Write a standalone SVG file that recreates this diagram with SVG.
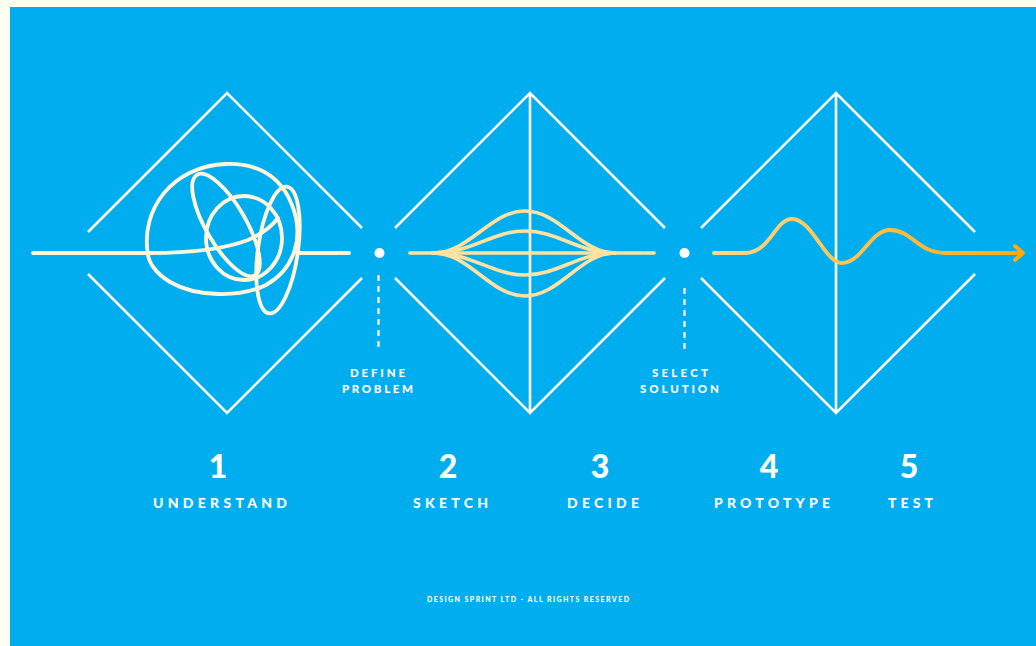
<svg xmlns="http://www.w3.org/2000/svg" width="1036" height="646" viewBox="0 0 1036 646">
  <defs>
    <style>
      .edge{fill:none;stroke:#ffffff;stroke-width:2.6;stroke-linecap:butt}
      .dash{fill:none;stroke:#ffffff;stroke-width:2.2;stroke-dasharray:6 5}
      .scr{fill:none;stroke:#fff6dc;stroke-width:3.8;stroke-linecap:round;stroke-linejoin:round}
      .lens{fill:none;stroke:#ffe2a0;stroke-width:3.6;stroke-linecap:round}
      .num{font-family:Lato,"Liberation Sans",sans-serif;font-weight:900;font-size:32px;fill:#ffffff;text-anchor:middle}
      .lbl{font-family:Lato,"Liberation Sans",sans-serif;font-weight:900;font-size:14px;fill:#ffffff;text-anchor:middle}
      .sm{font-family:Lato,"Liberation Sans",sans-serif;font-weight:900;font-size:11.5px;fill:#ffffff;text-anchor:middle}
      .ft{font-family:Lato,"Liberation Sans",sans-serif;font-weight:900;font-size:7px;fill:#ffffff;text-anchor:middle}
    </style>
    <linearGradient id="waveGrad" gradientUnits="userSpaceOnUse" x1="713" y1="0" x2="1025" y2="0">
      <stop offset="0" stop-color="#ffd888"/>
      <stop offset="1" stop-color="#ffa90c"/>
    </linearGradient>
  </defs>

  <rect x="0" y="0" width="1036" height="646" fill="#fdfff0"/>
  <rect x="10" y="7" width="1026" height="639" fill="#00aeef"/>

  <g id="diamond-1">
    <path class="edge" d="M88 232 L227 93 L362 228 M88 274 L227 413 L362 278"/>
  </g>
  <g id="diamond-2">
    <path class="edge" d="M395 228 L530 93 L665 228 M395 278 L530 413 L665 278 M530 93 V413"/>
  </g>
  <g id="diamond-3">
    <path class="edge" d="M701 228 L836 93 L975 232 M701 278 L836 413 L975 274 M836 93 V413"/>
  </g>

  <g id="scribble">
    <path class="scr" d="M33 253 H150 C185 253 222 250 248 240 C262 234 272 226 278 218"/>
    <path class="scr" d="M148 255 C140 210 172 166 226 164 C262 163 282 180 292 205 C304 235 296 268 266 285 C240 298 196 297 170 282 C155 273 149 262 148 255 Z"/>
    <ellipse class="scr" cx="226" cy="225" rx="58" ry="20" transform="rotate(60 226 225)"/>
    <ellipse class="scr" cx="244" cy="238" rx="38" ry="42"/>
    <ellipse class="scr" cx="278" cy="250" rx="20" ry="64" transform="rotate(8 278 250)"/>
    <path class="scr" d="M297 253 H349"/>
  </g>

  <g id="lens">
    <path class="lens" d="M410 253 H654"/>
    <path class="lens" d="M433 253 C470 253 490 211 525 211 C560 211 580 253 615 253"/>
    <path class="lens" d="M433 253 C472 253 492 231 525 231 C558 231 578 253 615 253"/>
    <path class="lens" d="M433 253 C472 253 492 275 525 275 C558 275 578 253 615 253"/>
    <path class="lens" d="M433 253 C470 253 490 296 525 296 C560 296 580 253 615 253"/>
  </g>

  <g id="wave">
    <path fill="none" stroke="url(#waveGrad)" stroke-width="3.8" stroke-linecap="round" stroke-linejoin="round" d="M714 253 L745 253 C770 253 775 219 792 219 C812 219 825 263 842 263 C862 263 870 230 890 230 C912 230 918 253 945 253 L1022 253 M1015 246 L1023 253 L1015 260"/>
  </g>

  <g id="define-problem">
    <circle cx="379.5" cy="253" r="5" fill="#ffffff"/>
    <path class="dash" d="M378.5 275 V351"/>
    <text class="sm" x="377.5" y="377" textLength="55" lengthAdjust="spacing">DEFINE</text>
    <text class="sm" x="377.5" y="393" textLength="71" lengthAdjust="spacing">PROBLEM</text>
  </g>

  <g id="select-solution">
    <circle cx="684.5" cy="253" r="5" fill="#ffffff"/>
    <path class="dash" d="M684.5 288 V351"/>
    <text class="sm" x="680" y="377" textLength="56" lengthAdjust="spacing">SELECT</text>
    <text class="sm" x="679.5" y="393" textLength="79" lengthAdjust="spacing">SOLUTION</text>
  </g>

  <g id="step-1">
    <text class="num" x="218" y="478">1</text>
    <text class="lbl" x="220" y="508" textLength="134" lengthAdjust="spacing">UNDERSTAND</text>
  </g>
  <g id="step-2">
    <text class="num" x="448" y="478">2</text>
    <text class="lbl" x="450.5" y="508" textLength="75" lengthAdjust="spacing">SKETCH</text>
  </g>
  <g id="step-3">
    <text class="num" x="600" y="478">3</text>
    <text class="lbl" x="603" y="508" textLength="72" lengthAdjust="spacing">DECIDE</text>
  </g>
  <g id="step-4">
    <text class="num" x="769" y="478">4</text>
    <text class="lbl" x="772" y="508" textLength="116" lengthAdjust="spacing">PROTOTYPE</text>
  </g>
  <g id="step-5">
    <text class="num" x="909" y="478">5</text>
    <text class="lbl" x="910.5" y="508" textLength="45" lengthAdjust="spacing">TEST</text>
  </g>

  <g id="footer">
    <text class="ft" x="528" y="601.5" textLength="202" lengthAdjust="spacing">DESIGN SPRINT LTD - ALL RIGHTS RESERVED</text>
  </g>
</svg>
